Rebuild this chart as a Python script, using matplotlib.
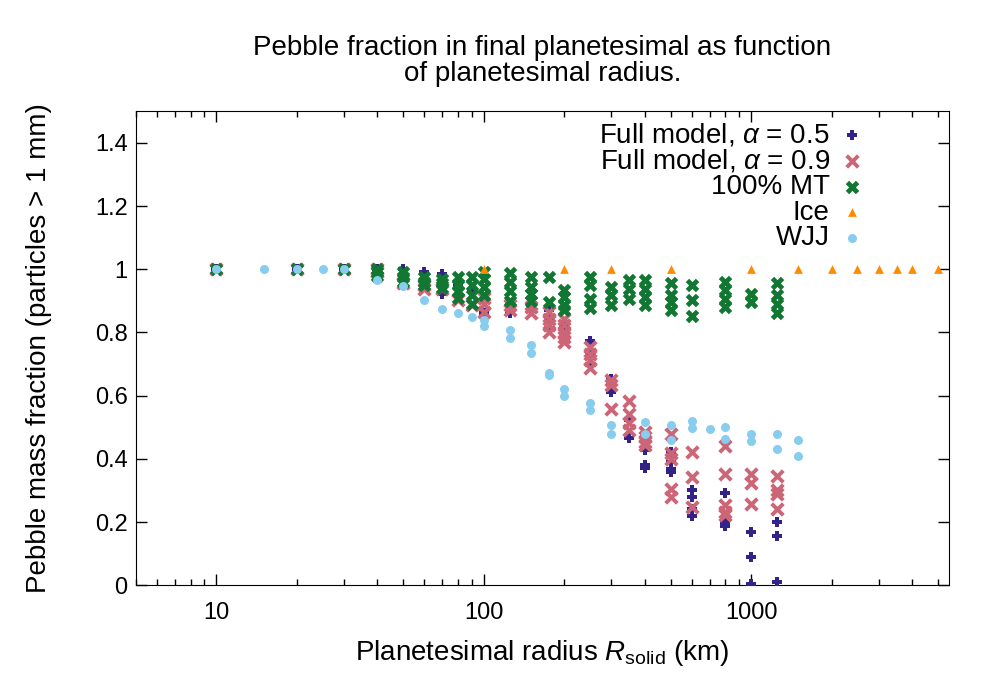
import numpy as np
import matplotlib
matplotlib.use("Agg")
from matplotlib import pyplot as plt
from matplotlib.ticker import FuncFormatter, LogLocator, FixedLocator

plt.rcParams['font.family'] = ['Liberation Sans', 'DejaVu Sans']
plt.rcParams['mathtext.fontset'] = 'custom'
plt.rcParams['mathtext.rm'] = 'Liberation Sans'
plt.rcParams['mathtext.it'] = 'Liberation Sans:italic'

# Full model, alpha = 0.5
a05_x = [10, 20, 30, 40, 50, 60, 70, 70, 80, 90, 100, 125, 125, 150,
         175, 175, 175, 200, 250, 250, 250, 300, 300, 350, 350,
         400, 400, 400, 500, 500, 500, 500, 600, 600, 600, 600,
         800, 800, 800, 800, 1000, 1000, 1000, 1250, 1250, 1250]
a05_y = [1.0, 1.0, 1.0, 1.0, 1.0, 0.99, 0.986, 0.923, 0.95, 0.93, 0.862, 0.886, 0.86, 0.88,
         0.87, 0.839, 0.815, 0.825, 0.772, 0.736, 0.696, 0.654, 0.612, 0.522, 0.467,
         0.429, 0.38, 0.371, 0.422, 0.39, 0.369, 0.359, 0.30, 0.279, 0.24, 0.218,
         0.292, 0.208, 0.197, 0.187, 0.169, 0.09, 0.005, 0.2, 0.157, 0.01]

# Full model, alpha = 0.9
a09_x = [10, 20, 30, 40, 40, 50, 60, 60, 70, 80, 90, 100, 100, 100, 125, 125, 150, 150,
         175, 175, 175, 175, 200, 200, 200, 200, 200, 250, 250, 250, 250,
         300, 300, 300, 350, 350, 350, 350, 400, 400, 400, 400,
         500, 500, 500, 500, 500, 600, 600, 600, 800, 800, 800, 800, 800,
         1000, 1000, 1000, 1250, 1250, 1250, 1250]
a09_y = [1.0, 1.0, 1.0, 1.0, 0.99, 0.958, 0.95, 0.936, 0.937, 0.902, 0.886, 0.908, 0.89, 0.865,
         0.886, 0.87, 0.88, 0.86, 0.865, 0.844, 0.823, 0.80, 0.844, 0.823, 0.80, 0.786, 0.77,
         0.754, 0.733, 0.712, 0.686, 0.649, 0.633, 0.559, 0.583, 0.543, 0.514, 0.49,
         0.485, 0.469, 0.453, 0.443, 0.48, 0.417, 0.401, 0.306, 0.279, 0.422, 0.341, 0.248,
         0.44, 0.353, 0.253, 0.232, 0.222, 0.353, 0.322, 0.256, 0.345, 0.30, 0.288, 0.24]

# 100% MT
mt_x = [10, 20, 30, 40, 40, 40, 50, 50, 50, 60, 60, 60, 70, 70, 70, 80, 80, 80, 80,
        90, 90, 90, 90, 100, 100, 100, 100, 125, 125, 125, 125, 150, 150, 150, 150,
        175, 175, 200, 200, 200, 200, 250, 250, 250, 250, 300, 300, 300,
        350, 350, 350, 400, 400, 400, 400, 500, 500, 500, 500, 600, 600, 600,
        800, 800, 800, 800, 1000, 1000, 1250, 1250, 1250, 1250]
mt_y = [1.0, 1.0, 1.0, 1.0, 0.99, 0.98, 0.99, 0.975, 0.96, 0.975, 0.96, 0.95, 0.97, 0.955, 0.94,
        0.975, 0.95, 0.93, 0.91, 0.975, 0.95, 0.92, 0.89, 0.99, 0.97, 0.945, 0.918,
        0.987, 0.96, 0.93, 0.90, 0.975, 0.944, 0.923, 0.90, 0.976, 0.897,
        0.934, 0.912, 0.886, 0.87, 0.976, 0.949, 0.907, 0.876, 0.944, 0.918, 0.886,
        0.965, 0.939, 0.907, 0.965, 0.939, 0.912, 0.886, 0.955, 0.92, 0.897, 0.87,
        0.949, 0.902, 0.851, 0.96, 0.934, 0.907, 0.88, 0.923, 0.897,
        0.958, 0.918, 0.891, 0.86]

# Ice
ice_x = [100, 200, 300, 500, 1000, 1500, 2000, 2500, 3000, 3500, 4000, 5000]
ice_y = [1.0] * len(ice_x)

# WJJ
wjj_x = [10, 15, 20, 25, 30, 40, 50, 60, 70, 80, 90, 100, 100, 125, 125, 150, 150,
         175, 175, 200, 200, 250, 250, 300, 300, 400, 400, 500, 500, 600, 600, 700,
         800, 800, 1000, 1000, 1250, 1250, 1500, 1500]
wjj_y = [1.0, 1.0, 1.0, 1.0, 1.0, 0.967, 0.947, 0.903, 0.874, 0.863, 0.85, 0.839, 0.82,
         0.807, 0.784, 0.759, 0.735, 0.672, 0.665, 0.62, 0.599, 0.576, 0.556, 0.508, 0.48,
         0.517, 0.48, 0.508, 0.461, 0.52, 0.496, 0.493, 0.501, 0.464, 0.48, 0.456,
         0.48, 0.43, 0.461, 0.408]

fig = plt.figure(figsize=(10, 7), dpi=100)
ax = fig.add_axes([0.136, 0.164, 0.813, 0.677])

ax.scatter(a05_x, a05_y, marker='P', s=60, color='#332288', linewidths=0,
           label=r'Full model, $\alpha$ = 0.5', zorder=3)
ax.scatter(a09_x, a09_y, marker='x', s=70, color='#CC6677', linewidths=2.8,
           label=r'Full model, $\alpha$ = 0.9', zorder=3)
ax.scatter(mt_x, mt_y, marker='X', s=95, color='#117733', linewidths=0,
           label='100% MT', zorder=3)
ax.scatter(ice_x, ice_y, marker='^', s=40, color='#FF8C00', linewidths=0,
           label='Ice', zorder=3)
ax.scatter(wjj_x, wjj_y, marker='o', s=42, color='#88CCEE', linewidths=0,
           label='WJJ', zorder=3)

ax.set_xscale('log')
ax.set_xlim(5, 5500)
ax.set_ylim(0, 1.5)
ax.xaxis.set_major_locator(FixedLocator([10, 100, 1000]))
ax.xaxis.set_minor_locator(LogLocator(base=10, subs=np.arange(2, 10)))
ax.xaxis.set_major_formatter(FuncFormatter(lambda v, p: '%g' % v))
ax.yaxis.set_major_locator(FixedLocator([0, 0.2, 0.4, 0.6, 0.8, 1.0, 1.2, 1.4]))
ax.yaxis.set_major_formatter(FuncFormatter(lambda v, p: '%g' % v))
ax.tick_params(which='both', direction='in', top=True, right=True, labelsize=17)
ax.tick_params(axis='x', pad=12)
ax.tick_params(axis='y', pad=6)
ax.tick_params(which='major', length=8, width=1)
ax.tick_params(which='minor', length=4, width=1)

ax.set_xlabel(r'Planetesimal radius $R_{\mathrm{solid}}$ (km)', fontsize=20, labelpad=10)
ax.set_ylabel('Pebble mass fraction (particles > 1 mm)', fontsize=20, labelpad=31)
ax.set_title('Pebble fraction in final planetesimal as function\nof planetesimal radius.',
             fontsize=20, pad=22, linespacing=1.0)

ax.legend(loc='upper right', bbox_to_anchor=(0.925, 1.026), frameon=False, markerfirst=False,
          fontsize=20, handletextpad=0.3, labelspacing=-0.02, borderpad=0.3,
          handlelength=1.0)

fig.savefig('out.png', dpi=100)
